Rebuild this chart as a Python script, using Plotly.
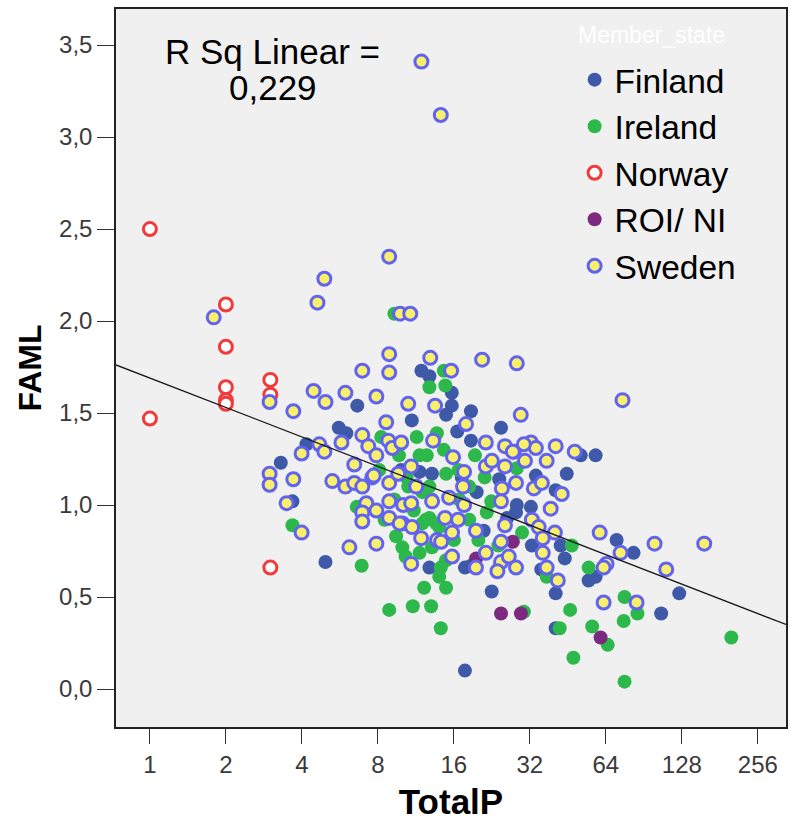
import math
import plotly.graph_objects as go

# ---------------- data (TotalP, FAML) ----------------
finland = [
    (4.17, 1.33), (3.3, 1.23), (3.67, 1.02), (4.96, 0.69), (5.6, 1.42), (6.0, 1.39),
    (6.63, 1.54), (10.9, 1.46), (11.9, 1.73), (12.8, 1.70), (15.7, 1.61), (15.7, 1.54),
    (14.9, 1.49), (18.7, 1.51), (24.6, 1.42), (16.5, 1.40), (18.7, 1.35), (33.8, 1.16),
    (28.4, 1.00), (32.3, 0.99), (44.8, 1.17), (50.9, 1.27), (58.3, 1.27), (40.5, 1.08),
    (44.0, 0.71), (32.6, 0.78), (42.4, 0.78), (40.5, 0.52), (54.7, 0.59), (58.3, 0.61),
    (22.6, 0.53), (12.8, 0.66), (17.7, 0.66), (18.7, 0.67), (19.7, 1.07), (26.0, 0.93),
    (17.7, 0.10), (70.6, 0.81), (82.4, 0.74), (125, 0.52), (106, 0.41), (35.5, 0.65),
    (11.7, 1.18), (13.1, 1.17), (40.5, 0.33), (17.2, 1.15), (24.2, 1.14), (21.0, 0.86),
    (9.9, 1.19), (28.2, 0.96),
]
ireland = [
    (9.3, 2.04), (14.6, 1.73), (12.8, 1.64), (14.8, 1.65), (8.25, 1.37), (13.7, 1.39),
    (11.7, 1.27), (12.5, 1.27), (14.6, 1.30), (19.4, 1.27), (14.9, 1.17), (10.4, 1.15),
    (10.55, 1.10), (12.8, 1.10), (13.1, 1.03), (12.0, 1.07), (12.4, 0.92), (14.0, 0.88),
    (22.5, 1.02), (21.6, 0.96), (28.4, 1.20), (29.8, 0.85), (46.9, 0.78), (54.7, 0.66),
    (37.3, 0.61), (3.67, 0.89), (6.9, 0.67), (9.45, 0.83), (10.0, 0.77), (10.3, 0.72),
    (12.0, 0.90), (13.6, 0.90), (12.8, 0.93), (13.1, 0.77), (11.7, 0.74), (14.9, 0.70),
    (14.2, 0.66), (14.0, 0.61), (12.2, 0.55), (14.9, 0.55), (8.87, 0.43), (11.0, 0.45),
    (13.0, 0.45), (14.2, 0.33), (30.3, 0.42), (46.2, 0.43), (42.0, 0.33), (47.6, 0.17),
    (56.5, 0.34), (65.1, 0.24), (75.9, 0.50), (85.4, 0.41), (75.3, 0.37), (75.9, 0.04),
    (201, 0.28), (16.8, 1.03), (18.4, 0.92), (16.0, 0.81), (20.0, 0.81), (11.1, 0.97),
    (9.3, 1.03), (8.5, 0.92), (8.1, 1.19), (16.7, 1.19), (21.2, 1.15), (24.0, 0.78),
    (18.4, 1.10), (9.7, 1.27), (11.4, 1.37), (6.6, 0.99),
]
norway = [
    (1, 2.50), (1, 1.47), (2, 2.09), (2, 1.86), (2, 1.64), (2, 1.57), (2, 1.55),
    (3, 1.68), (3, 1.60), (3, 0.66),
]
roi_ni = [
    (24.6, 0.41), (29.5, 0.41), (27.4, 0.80), (61.0, 0.28), (19.6, 0.71),
]
sweden = [
    (11.9, 3.41), (14.2, 3.12), (8.87, 2.35), (4.91, 2.23), (4.61, 2.10), (1.79, 2.02),
    (9.8, 2.04), (10.75, 2.04), (8.87, 1.82), (12.9, 1.80), (20.7, 1.79), (28.4, 1.77),
    (6.94, 1.73), (8.87, 1.72), (15.6, 1.73), (74.5, 1.57), (4.45, 1.62), (4.96, 1.56),
    (5.95, 1.61), (7.89, 1.59), (10.55, 1.55), (13.48, 1.54), (3.7, 1.51), (2.98, 1.56),
    (8.63, 1.45), (17.88, 1.44), (29.45, 1.49), (3.99, 1.28), (4.69, 1.33), (4.91, 1.29),
    (5.74, 1.34), (6.94, 1.38), (7.33, 1.32), (7.89, 1.27), (8.8, 1.35), (9.12, 1.31),
    (9.9, 1.34), (6.45, 1.22), (13.24, 1.35), (2.98, 1.17), (2.98, 1.11), (3.7, 1.14),
    (5.28, 1.13), (5.95, 1.10), (6.45, 1.12), (6.94, 1.10), (7.6, 1.15), (8.87, 1.12),
    (10.84, 1.21), (11.35, 1.10), (9.63, 1.17), (3.48, 1.01), (7.2, 1.01), (7.89, 0.97),
    (8.87, 0.93), (6.94, 0.96), (6.94, 0.91), (10.0, 0.90), (10.93, 0.88), (11.87, 0.82),
    (13.12, 1.02), (3.99, 0.85), (6.17, 0.77), (7.89, 0.79), (10.84, 0.68), (13.73, 0.81),
    (21.42, 1.34), (25.5, 1.32), (27.66, 1.29), (32.3, 1.34), (33.8, 1.31), (40.5, 1.32),
    (48.2, 1.29), (30.6, 1.24), (37.3, 1.24), (15.88, 1.26), (17.56, 1.18), (21.42, 1.21),
    (25.5, 1.21), (22.63, 1.24), (28.2, 1.12), (33.2, 1.09), (35.7, 1.12), (42.8, 1.06),
    (38.7, 0.98), (17.4, 1.10), (14.77, 0.93), (16.62, 0.92), (10.08, 1.00), (15.74, 0.85),
    (19.57, 0.86), (25.5, 0.89), (24.6, 0.80), (32.6, 0.92), (34.7, 0.88), (40.2, 0.85),
    (36.0, 0.82), (36.0, 0.74), (37.3, 0.66), (41.3, 0.59), (14.24, 0.80), (15.74, 0.72),
    (19.57, 0.66), (21.42, 0.74), (24.6, 0.69), (26.4, 0.72), (28.2, 0.66), (23.8, 0.64),
    (9.76, 0.90), (15.32, 1.04), (24.8, 1.09), (24.6, 1.02), (8.87, 1.02), (10.84, 1.01),
    (17.56, 1.00), (7.7, 1.16), (60.5, 0.85), (99.8, 0.79), (157, 0.79), (73.2, 0.74),
    (64.4, 0.68), (62.7, 0.66), (111, 0.65), (62.7, 0.47), (84.7, 0.47), (27.4, 1.29),
    (30.3, 1.33),
]

member_states = ["Finland", "Ireland", "Norway", "ROI/ NI", "Sweden"]
series = [finland, ireland, norway, roi_ni, sweden]

x_tick_vals = [1, 2, 4, 8, 16, 32, 64, 128, 256]
x_tick_text = ["1", "2", "4", "8", "16", "32", "64", "128", "256"]
y_tick_vals = [0.0, 0.5, 1.0, 1.5, 2.0, 2.5, 3.0, 3.5]
y_tick_text = ["0,0", "0,5", "1,0", "1,5", "2,0", "2,5", "3,0", "3,5"]

x_range_vals = [0.734, 331]       # TotalP axis extent
y_range_vals = [-0.2065, 3.696]   # FAML axis extent

fit_intercept = 1.69   # FAML at TotalP = 1
fit_slope = -0.160     # change in FAML per doubling of TotalP
r_sq_label = "R Sq Linear ="
r_sq_value = "0,229"

# ---------------- styles ----------------
FONT = "Liberation Sans, Arial, Helvetica, sans-serif"
styles = {
    "Finland": dict(size=14, color="#3d59a8", line=dict(width=0)),
    "Ireland": dict(size=14, color="#2db84b", line=dict(width=0)),
    "Norway": dict(size=13, color="#ffffff", line=dict(width=3, color="#f23a3a")),
    "ROI/ NI": dict(size=14, color="#7b2a80", line=dict(width=0)),
    "Sweden": dict(size=13, color="#f8f06a", line=dict(width=3, color="#6262f2")),
}

fig = go.Figure()
for name, pts in zip(member_states, series):
    xs = [p[0] for p in pts]
    ys = [p[1] for p in pts]
    fig.add_trace(go.Scatter(x=xs, y=ys, mode="markers", name=name,
                             marker=dict(symbol="circle", **styles[name])))

line_x = list(x_range_vals)
line_y = [fit_intercept + fit_slope * math.log2(v) for v in line_x]
fig.add_trace(go.Scatter(x=line_x, y=line_y, mode="lines", showlegend=False,
                         line=dict(color="#1a1a1a", width=1.3), hoverinfo="skip"))

fig.update_layout(
    width=789, height=821,
    margin=dict(l=116, r=1, t=9, b=94),
    paper_bgcolor="#ffffff", plot_bgcolor="#f0f0f0",
    font=dict(family=FONT, color="#000000"),
    showlegend=True,
    legend=dict(x=0.6845, y=0.9410, xanchor="left", yanchor="top",
                bgcolor="rgba(0,0,0,0)", font=dict(size=33.5, color="#000000"),
                itemsizing="trace"),
    xaxis=dict(type="log", range=[math.log10(x_range_vals[0]), math.log10(x_range_vals[1])],
               tickvals=x_tick_vals, ticktext=x_tick_text,
               ticks="outside", ticklen=15, tickwidth=1.2, tickcolor="#333333",
               tickfont=dict(size=24, color="#3a3a3a"),
               showgrid=False, zeroline=False,
               showline=True, linecolor="#222222", linewidth=1.5, mirror=True,
               title=dict(text="<b>TotalP</b>", font=dict(size=35), standoff=15)),
    yaxis=dict(range=y_range_vals, tickvals=y_tick_vals, ticktext=y_tick_text,
               ticks="outside", ticklen=17, tickwidth=1.2, tickcolor="#333333",
               tickfont=dict(size=24, color="#3a3a3a"),
               showgrid=False, zeroline=False,
               showline=True, linecolor="#222222", linewidth=1.5, mirror=True,
               title=dict(text="<b>FAML</b>", font=dict(size=32), standoff=8)),
    annotations=[
        dict(text=r_sq_label, xref="paper", yref="paper", x=0.2336, y=0.941,
             showarrow=False, font=dict(size=35, color="#000000"), xanchor="center", yanchor="middle"),
        dict(text=r_sq_value, xref="paper", yref="paper", x=0.2336, y=0.891,
             showarrow=False, font=dict(size=35, color="#000000"), xanchor="center", yanchor="middle"),
        dict(text="Member_state", xref="paper", yref="paper", x=0.686, y=0.964,
             showarrow=False, font=dict(size=23, color="#ffffff"), xanchor="left", yanchor="middle"),
    ],
)

fig.write_html("out.html")
